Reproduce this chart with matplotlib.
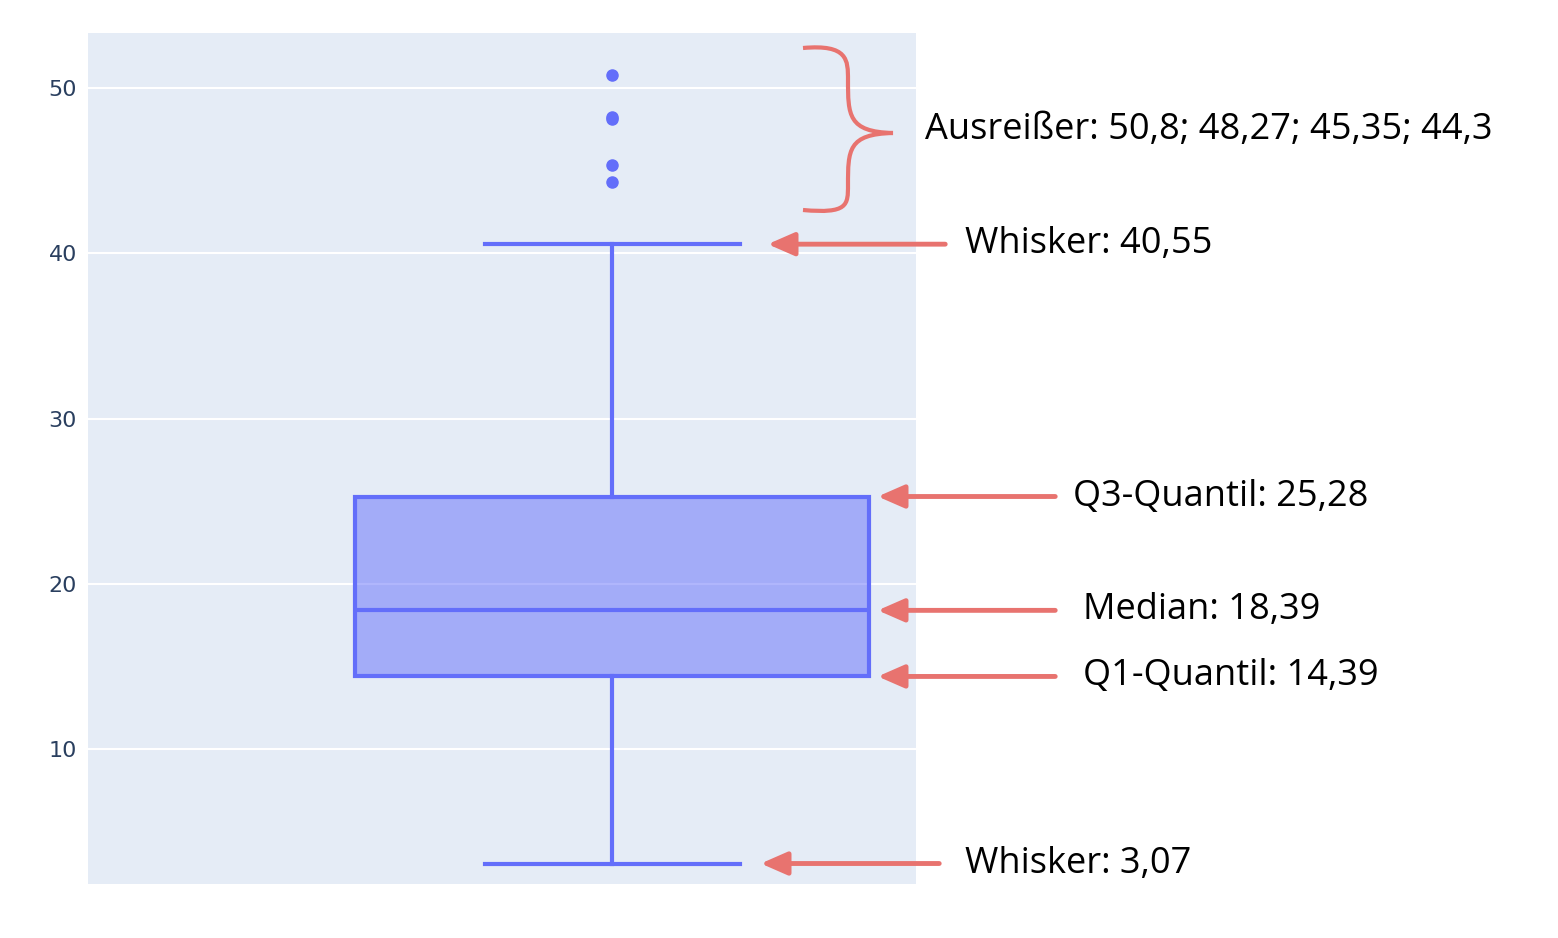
import matplotlib
matplotlib.use("Agg")
import matplotlib.pyplot as plt
from matplotlib.path import Path
from matplotlib.patches import PathPatch, FancyArrowPatch

# values
whislo, q1, med, q3, whishi = 3.07, 14.39, 18.39, 25.28, 40.55
outliers = [50.8, 48.27, 48.1, 45.35, 44.3]
yticks = [10, 20, 30, 40, 50]
labels = ["Whisker: 40,55", "Q3-Quantil: 25,28", "Median: 18,39",
          "Q1-Quantil: 14,39", "Whisker: 3,07"]
label_vals = [whishi, q3, med, q1, whislo]

W, H = 1558, 938
fig = plt.figure(figsize=(W / 100, H / 100), dpi=100)
ax = fig.add_axes([88 / W, 1 - 884 / H, 828 / W, 851 / H])
ax.set_facecolor("#e5ecf6")
blue = "#636efa"

stats = [dict(whislo=whislo, q1=q1, med=med, q3=q3, whishi=whishi, fliers=outliers)]
ax.bxp(stats, positions=[0], widths=0.62, patch_artist=True, showcaps=True,
       boxprops=dict(facecolor=(0.388, 0.431, 0.98, 0.5), edgecolor=blue, linewidth=3),
       medianprops=dict(color=blue, linewidth=3),
       whiskerprops=dict(color=blue, linewidth=3),
       capprops=dict(color=blue, linewidth=3),
       capwidths=0.308,
       flierprops=dict(marker="o", markerfacecolor=blue, markeredgecolor=blue, markersize=8))
ax.set_xlim(-0.633, 0.367)
ax.set_ylim(1.83, 53.33)
ax.set_yticks(yticks)
ax.set_xticks([])
ax.grid(axis="y", color="white", linewidth=1.5)
ax.set_axisbelow(True)
for s in ax.spines.values():
    s.set_visible(False)
ax.tick_params(axis="y", length=0, pad=8, labelsize=16, labelcolor="#2a3f5f")

red = "#e8736f"
font = dict(family=["Open Sans", "DejaVu Sans"], fontsize=26, color="black")

def fpx(x, y):
    return x / W, 1 - y / H

# arrows: (arrow tail x, head x, text x) in pixels
arrow_x = [(948, 765, 965), (1058, 875, 1073), (1058, 875, 1083),
           (1058, 875, 1083), (942, 758, 965)]
for (tx, hx, lx), val, lab in zip(arrow_x, label_vals, labels):
    yd = ax.transData.transform((0, val))[1]
    yp = H - yd
    a = FancyArrowPatch(fpx(tx, yp), fpx(hx, yp), transform=fig.transFigure,
                        arrowstyle="-|>,head_length=16,head_width=7",
                        color=red, linewidth=3.5, mutation_scale=1)
    fig.patches.append(a)
    fig.text(*fpx(lx, yp), lab, va="center", ha="left", **font)

# curly brace for outliers
x0, x1, xm = 803, 893, 848
verts = [(x0, 48), (xm, 44), (xm, 60), (xm, 80), (xm, 115), (xm, 132), (x1, 133),
         (xm, 134), (xm, 150), (xm, 185), (xm, 205), (xm, 214), (x0, 210)]
codes = [Path.MOVETO] + [Path.CURVE4] * 12
path = Path([fpx(*v) for v in verts], codes)
fig.patches.append(PathPatch(path, transform=fig.transFigure, fill=False,
                             edgecolor=red, linewidth=3))
fig.text(*fpx(925, 130), "Ausreißer: 50,8; 48,27; 45,35; 44,3", va="center", ha="left", **font)

fig.savefig("out.png", dpi=100, facecolor="white")
